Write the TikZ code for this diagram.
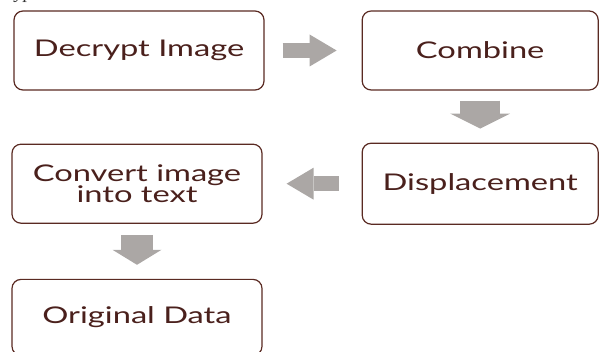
\documentclass[tikz,border=0pt]{standalone}
\usepackage{fontspec}
\setmainfont{Liberation Serif}
\newfontfamily\stepfont[FakeStretch=1.42]{Lato}
\usetikzlibrary{positioning,arrows.meta}
\definecolor{boxbrown}{HTML}{5A2A22}
\definecolor{textbrown}{HTML}{4A201C}
\definecolor{arrowgrey}{HTML}{ABA7A5}

\begin{document}
\begin{tikzpicture}[x=1pt, y=1pt, node distance=97pt,
  stepnode/.style={rectangle, rounded corners=9pt, draw=boxbrown, line width=1.2pt, fill=white,
    minimum width=250pt, minimum height=79pt, align=center, text=textbrown,
    font=\stepfont\fontsize{23}{19.5}\selectfont},
  widearrow/.style={color=arrowgrey, line width=15pt,
    -{Triangle[length=27pt, width=32pt, line width=0pt]}},
  tallarrow/.style={color=arrowgrey, line width=40pt,
    -{Triangle[length=15pt, width=60pt, line width=0pt]}},
  ]
  \useasboundingbox (0,0) rectangle (600,-352);

  % caption of the page above, cut off by the frame
  \begin{scope}
    \clip (0,0) rectangle (600,-352);
    \node[anchor=base west, inner sep=0pt, text=black!80, font=\itshape\fontsize{19}{20}\selectfont] (cap) at (-23,1.5) {Decrypted Data};
  \end{scope}

  \node[stepnode] (dec) at (139,-50.5) {Decrypt Image};
  \node[stepnode, minimum width=236pt] (comb) [right=97pt of dec] {Combine};
  \node[stepnode, minimum width=236pt, minimum height=81pt] (disp) [below=52pt of comb] {Displacement};
  \node[stepnode] (conv) [left=99pt of disp] {Convert image\\into text};
  \node[stepnode, minimum height=76pt] (orig) [below=55pt of conv] {Original Data};

  \path [widearrow] (dec) edge [shorten <=18pt, shorten >=25pt] (comb)
                    (disp) edge [shorten <=23pt, shorten >=24pt] (conv);
  \path [tallarrow] (comb) edge [shorten <=10pt, shorten >=14pt] (disp);
  \path [tallarrow, line width=32pt, -{Triangle[length=15pt, width=49pt, line width=0pt]}]
                    (conv) edge [shorten <=11pt, shorten >=14pt] (orig);
\end{tikzpicture}
\end{document}
